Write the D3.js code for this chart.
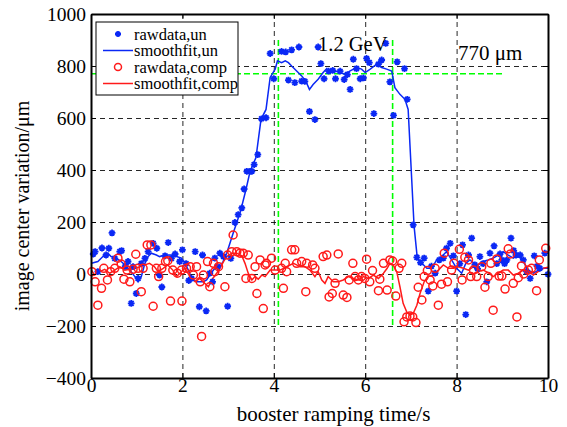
<!DOCTYPE html>
<html>
<head>
<meta charset="utf-8">
<script src="https://cdn.jsdelivr.net/npm/d3@7"></script>
<style>
  html, body { margin: 0; padding: 0; background: #fff; }
  svg { display: block; font-family: "Liberation Serif", "Times New Roman", serif; }
</style>
</head>
<body>
<svg id="chart" width="567" height="427"></svg>
<script>
// ---- data: image centre variation during booster ramping ----
const xTicks = [0, 2, 4, 6, 8, 10];
const yTicks = [-400, -200, 0, 200, 400, 600, 800, 1000];

// raw centre positions, uncompensated  [time s, variation um]
const rawUn = [
  [0.05,77],[0.09,86],[0.15,9],[0.24,100],[0.33,73],[0.39,99],[0.46,158],[0.52,60],[0.63,86],
  [0.67,90],[0.75,30],[0.81,48],[0.88,-113],[0.92,28],[0.99,-75],[1.03,-17],[1.10,40],[1.18,60],
  [1.25,86],[1.36,118],[1.44,99],[1.50,-4],[1.55,-50],[1.62,70],[1.69,121],[1.76,60],[1.84,77],
  [1.94,48],[2.00,93],[2.08,40],[2.14,-25],[2.20,-17],[2.28,86],[2.37,-126],[2.44,73],[2.52,-142],
  [2.60,3],[2.66,-30],[2.71,61],[2.77,28],[2.82,80],[2.90,67],[2.99,-124],[3.06,60],[3.15,198],
  [3.22,228],[3.30,254],[3.35,327],[3.41,395],[3.48,395],[3.52,395],[3.57,421],[3.65,459],
  [3.73,597],[3.83,601],[3.92,848],[4.00,751],[4.17,856],[4.26,854],[4.32,746],[4.39,862],
  [4.46,736],[4.55,873],[4.61,742],[4.68,741],[4.78,625],[4.90,594],[4.97,873],[5.03,809],
  [5.10,751],[5.20,780],[5.29,783],[5.35,751],[5.45,780],[5.54,748],[5.61,767],[5.67,710],
  [5.74,826],[5.81,790],[5.89,751],[5.96,754],[6.03,829],[6.09,813],[6.19,617],[6.29,807],
  [6.36,823],[6.45,887],[6.54,739],[6.62,610],[6.70,816],[6.86,790],[6.92,672],[7.05,189],
  [7.13,64],[7.21,44],[7.29,61],[7.38,-66],[7.45,30],[7.53,3],[7.62,54],[7.71,61],[7.78,99],
  [7.86,118],[7.93,70],[8.00,-66],[8.07,40],[8.13,112],[8.20,-156],[8.26,73],[8.33,138],
  [8.40,35],[8.46,20],[8.51,67],[8.58,40],[8.66,-30],[8.73,80],[8.82,108],[8.88,40],[8.95,77],
  [8.99,54],[9.05,40],[9.10,54],[9.19,138],[9.25,90],[9.30,73],[9.39,73],[9.46,54],[9.53,10],
  [9.61,-17],[9.70,70],[9.76,30],[9.82,22],[9.93,80],[10.0,-1]
];

// smoothed fit, uncompensated
const fitUn = [
  [0.01,41],[0.15,48],[0.26,67],[0.37,80],[0.44,67],[0.55,61],[0.66,48],[0.74,35],[0.85,15],
  [0.96,-10],[1.03,-30],[1.10,-10],[1.18,41],[1.25,67],[1.32,80],[1.43,73],[1.50,67],[1.61,73],
  [1.76,73],[1.87,67],[1.98,61],[2.06,41],[2.13,15],[2.20,-17],[2.31,-30],[2.46,-30],[2.53,-23],
  [2.60,-4],[2.68,15],[2.75,28],[2.82,28],[2.89,48],[2.97,80],[3.04,118],[3.11,157],[3.19,198],
  [3.28,247],[3.39,324],[3.48,394],[3.61,448],[3.72,595],[3.83,633],[3.92,756],[4.03,788],
  [4.08,820],[4.17,813],[4.25,820],[4.32,813],[4.39,800],[4.50,781],[4.61,762],[4.70,742],
  [4.78,710],[4.86,729],[4.97,749],[5.08,775],[5.16,790],[5.21,775],[5.34,781],[5.45,775],
  [5.56,768],[5.67,781],[5.81,794],[5.92,788],[6.00,775],[6.11,788],[6.25,807],[6.36,794],
  [6.47,788],[6.58,781],[6.65,717],[6.76,691],[6.87,672],[6.94,633],[7.07,183],[7.14,61],
  [7.24,41],[7.35,22],[7.46,22],[7.56,54],[7.67,67],[7.78,86],[7.89,54],[8.00,22],[8.11,3],
  [8.20,41],[8.29,54],[8.39,41],[8.47,35],[8.58,48],[8.69,54],[8.80,61],[8.91,73],[9.02,86],
  [9.13,73],[9.24,61],[9.35,73],[9.46,48],[9.57,15],[9.68,3],[9.79,15],[9.90,22],[10.0,22]
];

// raw centre positions, compensated
const rawComp = [
  [0.02,9],[0.09,-30],[0.15,-120],[0.23,-55],[0.28,22],[0.36,-23],[0.43,9],[0.52,22],[0.59,61],
  [0.66,38],[0.72,-20],[0.79,15],[0.85,-30],[0.92,18],[0.98,76],[1.03,22],[1.10,-68],[1.14,22],
  [1.23,112],[1.31,112],[1.36,-124],[1.43,22],[1.48,-10],[1.55,22],[1.63,48],[1.68,51],
  [1.74,-104],[1.79,15],[1.89,3],[1.98,15],[1.99,-104],[2.09,22],[2.17,28],[2.24,-4],[2.31,28],
  [2.39,-30],[2.42,-240],[2.46,-4],[2.55,48],[2.60,-49],[2.68,41],[2.71,9],[2.79,28],[2.93,-49],
  [2.99,73],[3.08,86],[3.11,150],[3.19,86],[3.26,80],[3.33,80],[3.39,-17],[3.44,73],[3.52,-17],
  [3.59,28],[3.63,-75],[3.70,54],[3.77,-133],[3.81,35],[3.84,41],[3.95,61],[4.03,15],[4.17,22],
  [4.21,-55],[4.25,41],[4.28,9],[4.39,93],[4.46,93],[4.50,41],[4.61,48],[4.70,-68],[4.72,41],
  [4.85,35],[4.90,22],[5.08,67],[5.16,73],[5.21,-88],[5.28,-75],[5.34,-36],[5.41,77],[5.52,-81],
  [5.60,-90],[5.65,-23],[5.73,41],[5.78,-10],[5.85,-23],[5.92,-10],[5.99,-17],[6.03,57],
  [6.10,-30],[6.16,13],[6.29,-64],[6.32,-20],[6.40,41],[6.48,-62],[6.54,54],[6.60,50],[6.67,-85],
  [6.74,22],[6.80,41],[6.85,-184],[6.91,-165],[6.98,-162],[7.04,-165],[7.11,-187],[7.16,-51],
  [7.24,-100],[7.29,-10],[7.36,13],[7.42,-23],[7.48,-46],[7.53,22],[7.60,-120],[7.67,-39],
  [7.73,80],[7.80,-30],[7.89,15],[7.94,41],[8.06,95],[8.12,-23],[8.18,64],[8.26,54],[8.31,-10],
  [8.37,15],[8.44,-10],[8.55,28],[8.62,-51],[8.69,-10],[8.75,41],[8.80,-139],[8.88,58],
  [8.93,-8],[8.99,-8],[9.06,-58],[9.13,97],[9.18,77],[9.24,-36],[9.32,-165],[9.35,-14],
  [9.42,31],[9.47,0],[9.57,15],[9.64,22],[9.75,-64],[9.81,54],[9.95,99]
];

// smoothed fit, compensated
const fitComp = [
  [0.01,15],[0.08,-4],[0.19,9],[0.30,18],[0.41,3],[0.52,15],[0.63,28],[0.74,15],[0.85,18],
  [0.96,22],[1.07,28],[1.18,35],[1.28,41],[1.39,28],[1.47,9],[1.58,22],[1.68,35],[1.79,15],
  [1.87,-10],[1.98,9],[2.05,22],[2.17,-10],[2.28,-30],[2.38,-17],[2.49,-36],[2.57,-49],
  [2.64,-23],[2.75,3],[2.82,22],[2.90,48],[2.97,67],[3.08,80],[3.19,80],[3.30,70],[3.37,41],
  [3.44,3],[3.52,-23],[3.59,-10],[3.66,-20],[3.74,-4],[3.81,-10],[3.92,15],[3.99,15],[4.14,15],
  [4.28,28],[4.43,41],[4.50,35],[4.57,28],[4.68,28],[4.79,15],[4.90,-10],[4.97,9],[5.05,-23],
  [5.12,-36],[5.19,-10],[5.30,-30],[5.41,-30],[5.52,-23],[5.63,-10],[5.74,-17],[5.85,-23],
  [5.96,-10],[6.07,-17],[6.18,-4],[6.29,-17],[6.40,3],[6.48,22],[6.54,41],[6.61,35],[6.69,9],
  [6.76,-49],[6.83,-113],[6.91,-146],[6.98,-158],[7.05,-152],[7.13,-120],[7.20,-75],[7.29,-30],
  [7.38,-10],[7.49,-4],[7.60,15],[7.71,35],[7.82,22],[7.93,22],[8.04,28],[8.15,22],[8.26,15],
  [8.37,28],[8.47,9],[8.58,15],[8.69,5],[8.80,-10],[8.91,3],[9.02,15],[9.13,15],[9.24,-4],
  [9.35,3],[9.46,15],[9.57,10],[9.68,-4],[9.79,10],[9.90,22],[10.0,26]
];

// reference markers: plateau level and ramp window
const plateauLevel = 770;
const plateauEnd = 9;
const rampWindow = [4.1, 6.6];
const windowSpan = [-200, 900];
const legendItems = ["rawdata,un", "smoothfit,un", "rawdata,comp", "smoothfit,comp"];

// ---- layout ----
const m = { left: 91, right: 548, top: 14, bottom: 378 };
const svg = d3.select("#chart");
const x = d3.scaleLinear().domain([0, 10]).range([m.left, m.right]);
const y = d3.scaleLinear().domain([-400, 1000]).range([m.bottom, m.top]);
const W = m.right - m.left, H = m.bottom - m.top;

const blue = "#0a28f5", red = "#ff1a1a", green = "#00ff00";

// dashed grid
const grid = svg.append("g");
grid.append("g").attr("transform", `translate(0,${m.bottom})`)
  .call(d3.axisBottom(x).tickValues(xTicks.slice(1, -1)).tickSize(-H).tickFormat(""))
  .call(g => g.select(".domain").remove());
grid.append("g").attr("transform", `translate(${m.left},0)`)
  .call(d3.axisLeft(y).tickValues(yTicks.slice(1, -1)).tickSize(-W).tickFormat(""))
  .call(g => g.select(".domain").remove());
grid.selectAll("line").attr("stroke", "#000").attr("stroke-width", 1).attr("stroke-dasharray", "5,4").attr("opacity", 0.85);

// green guide lines
const guides = svg.append("g").attr("stroke", green).attr("stroke-width", 1.6).attr("stroke-dasharray", "6,3");
guides.append("line").attr("x1", x(0)).attr("x2", x(plateauEnd))
  .attr("y1", y(plateauLevel)).attr("y2", y(plateauLevel));
rampWindow.forEach(t => guides.append("line").attr("x1", x(t)).attr("x2", x(t))
  .attr("y1", y(windowSpan[1])).attr("y2", y(windowSpan[0])));

// curves
const line = d3.line().x(d => x(d[0])).y(d => y(d[1]));
svg.append("path").datum(fitUn).attr("d", line).attr("fill", "none").attr("stroke", blue).attr("stroke-width", 1.5);
svg.append("path").datum(fitComp).attr("d", line).attr("fill", "none").attr("stroke", red).attr("stroke-width", 1.5);

// asterisk marker path
function star(r) {
  const a = r * Math.SQRT1_2;
  return `M${-r},0H${r}M0,${-r}V${r}M${-a},${-a}L${a},${a}M${-a},${a}L${a},${-a}`;
}

svg.append("g").selectAll("path").data(rawUn).join("path")
  .attr("transform", d => `translate(${x(d[0])},${y(d[1])})`)
  .attr("d", star(3.4)).attr("stroke", blue).attr("stroke-width", 1.8).attr("fill", "none");

svg.append("g").selectAll("circle").data(rawComp).join("circle")
  .attr("cx", d => x(d[0])).attr("cy", d => y(d[1])).attr("r", 4)
  .attr("fill", "none").attr("stroke", red).attr("stroke-width", 1.5);

// axes with inward ticks, mirrored on top/right
const tickFont = 19.5;
const ax = svg.append("g").attr("transform", `translate(0,${m.bottom})`)
  .call(d3.axisBottom(x).tickValues(xTicks).tickSizeInner(-5).tickSizeOuter(0).tickPadding(3));
const ay = svg.append("g").attr("transform", `translate(${m.left},0)`)
  .call(d3.axisLeft(y).tickValues(yTicks).tickSizeInner(-5).tickSizeOuter(0).tickPadding(5)
    .tickFormat(d => d < 0 ? "\u2212" + Math.abs(d) : d));
const axTop = svg.append("g").attr("transform", `translate(0,${m.top})`)
  .call(d3.axisTop(x).tickValues(xTicks).tickSizeInner(-5).tickSizeOuter(0).tickFormat(""));
const ayRight = svg.append("g").attr("transform", `translate(${m.right},0)`)
  .call(d3.axisRight(y).tickValues(yTicks).tickSizeInner(-5).tickSizeOuter(0).tickFormat(""));
[ax, ay, axTop, ayRight].forEach(g => {
  g.select(".domain").attr("stroke", "#000").attr("stroke-width", 2);
  g.selectAll(".tick line").attr("stroke", "#000").attr("stroke-width", 1);
  g.selectAll("text").attr("font-family", "Liberation Serif").attr("font-size", tickFont).attr("fill", "#000");
});
ax.selectAll("text").attr("y", 14).attr("dy", "0");

// axis titles
svg.append("text").attr("x", (m.left + m.right) / 2 + 14).attr("y", 421)
  .attr("text-anchor", "middle").attr("font-size", 21).text("booster ramping time/s");
svg.append("text").attr("transform", `translate(29,206) rotate(-90)`)
  .attr("text-anchor", "middle").attr("font-size", 20).text("image center variation/\u03bcm");

// annotations
svg.append("text").attr("x", 318).attr("y", 51).attr("font-size", 20.5).text("1.2 GeV");
svg.append("text").attr("x", 458).attr("y", 60).attr("font-size", 21).text("770 \u03bcm");

// legend
const lg = svg.append("g").attr("transform", "translate(96,22)");
lg.append("rect").attr("width", 142).attr("height", 73).attr("fill", "#fff").attr("stroke", "#000").attr("stroke-width", 1);
legendItems.forEach((name, i) => {
  const cy = 12 + i * 16.5;
  const row = lg.append("g").attr("transform", `translate(0,${cy})`);
  if (i === 0) row.append("path").attr("transform", "translate(22,0)").attr("d", star(3)).attr("stroke", blue).attr("stroke-width", 1.8);
  if (i === 1) row.append("line").attr("x1", 7).attr("x2", 37).attr("stroke", blue).attr("stroke-width", 1.5);
  if (i === 2) row.append("circle").attr("cx", 22).attr("r", 3.5).attr("fill", "none").attr("stroke", red).attr("stroke-width", 1.5);
  if (i === 3) row.append("line").attr("x1", 7).attr("x2", 37).attr("stroke", red).attr("stroke-width", 1.5);
  row.append("text").attr("x", 38).attr("dy", "0.35em").attr("font-size", 16.5).text(name);
});
</script>
</body>
</html>
